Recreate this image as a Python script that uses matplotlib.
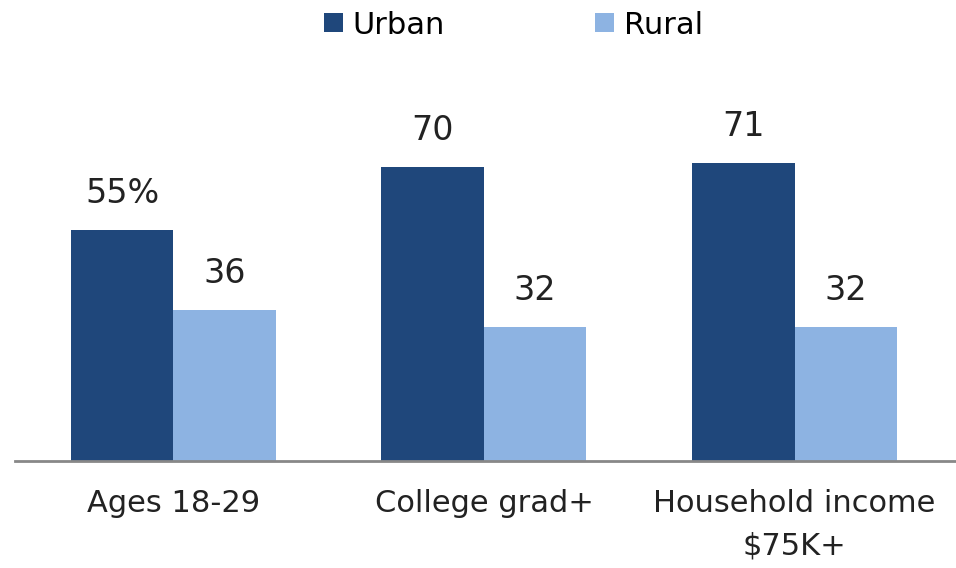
import matplotlib.pyplot as plt
import numpy as np

# Data
categories = ['Ages 18-29', 'College grad+', 'Household income\n$75K+']
urban = np.array([55, 70, 71])
rural = np.array([36, 32, 32])
urban_labels = ['55%', '70', '71']
rural_labels = ['36', '32', '32']

plt.rcParams['font.family'] = ['DejaVu Sans']

x = np.arange(len(categories))
width = 0.33

fig = plt.figure(figsize=(9.56, 5.68), dpi=100)
ax = fig.add_axes([15 / 956, 0.188, 1 - 15 / 956, 0.592])

b1 = ax.bar(x - width / 2, urban, width, color='#1f477b', label='Urban')
b2 = ax.bar(x + width / 2, rural, width, color='#8db3e2', label='Rural')

for bars, labs in [(b1, urban_labels), (b2, rural_labels)]:
    for rect, lab in zip(bars, labs):
        ax.text(rect.get_x() + rect.get_width() / 2, rect.get_height() + 6.4, lab,
                ha='center', va='baseline', fontsize=24, color='#222222')

ax.set_xlim(-0.51, 2.52)
ax.set_ylim(0, 80)
ax.set_xticks(x)
ax.set_xticklabels(categories, fontsize=22, color='#222222', linespacing=1.6)
ax.tick_params(axis='x', length=0, pad=20)
ax.set_yticks([])
for s in ['top', 'right', 'left']:
    ax.spines[s].set_visible(False)
ax.spines['bottom'].set_color('#888888')
ax.spines['bottom'].set_linewidth(2)

# legend at top
fig.legend(handles=[b1, b2], labels=['Urban', 'Rural'], loc='center',
           bbox_to_anchor=(0.537, 1 - 25 / 568), ncol=2, frameon=False, fontsize=22,
           handlelength=0.62, handleheight=0.56, handletextpad=0.33,
           columnspacing=4.9, borderpad=0)

fig.savefig('out.png', dpi=100)
